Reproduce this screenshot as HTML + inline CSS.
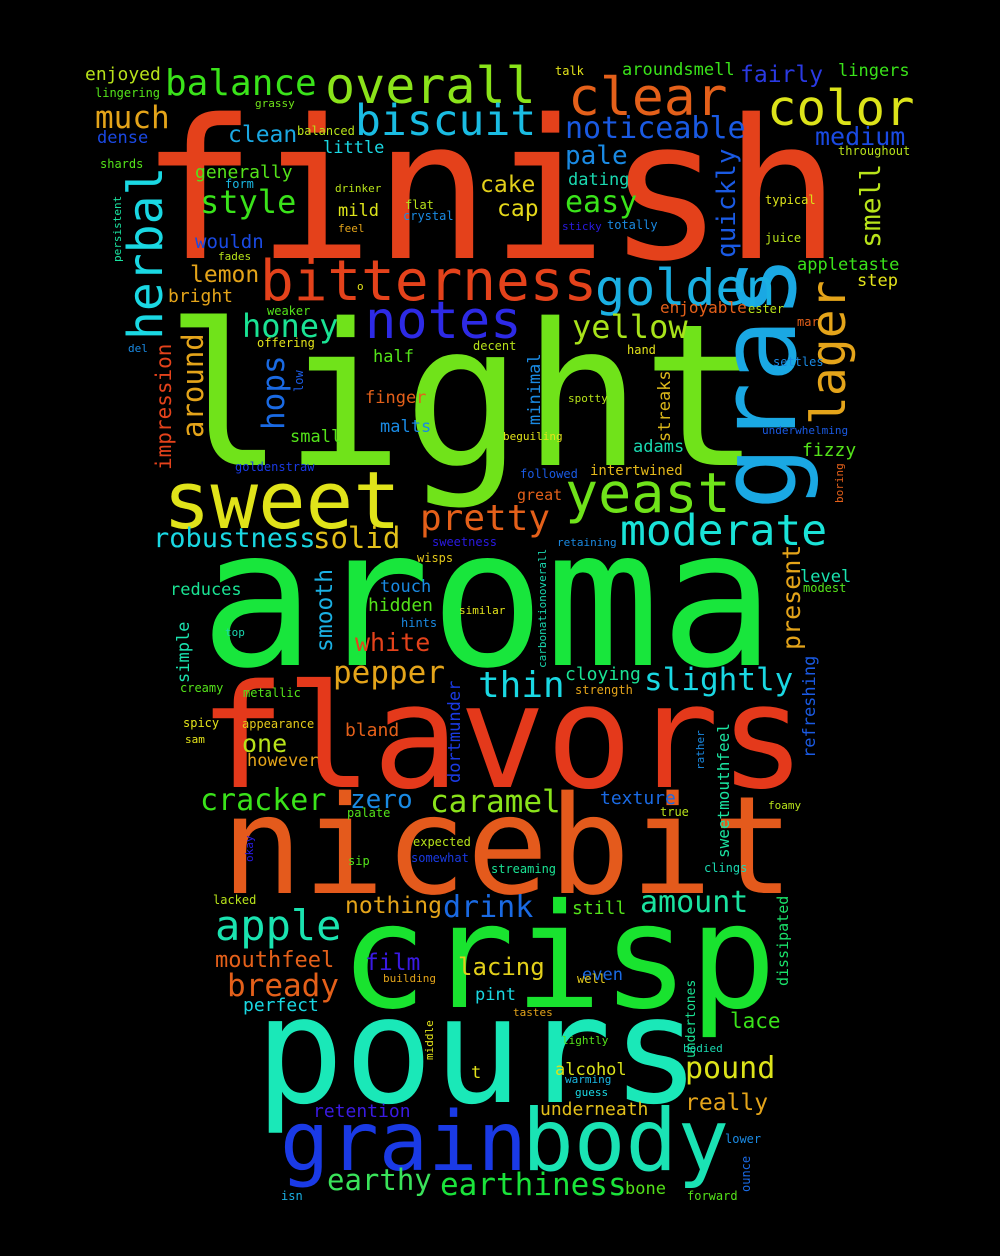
<!DOCTYPE html>
<html>
<head>
<meta charset="utf-8">
<style>
html,body{margin:0;padding:0;background:#000;}
svg{display:block;}
text{font-family:"DejaVu Sans Mono","Liberation Mono",monospace;}
</style>
</head>
<body>
<svg id="cloud" width="1000" height="1256" viewBox="0 0 1000 1256" xmlns="http://www.w3.org/2000/svg">
<rect width="1000" height="1256" fill="#000"/>
</svg>
<script>
// Word-cloud data, one small array per attribute (same order in every array).
const wordTexts = ["finish","light","aroma","flavors","nicebit","crisp","pours","grain","body","gras","sweet","yeast","bitterness","notes","golden","overall","clear","color","biscuit","balance","noticeable","herbal","lager","smell","quickly","much","dense","enjoyed","lingering","grassy","balanced","clean","little","pale","fairly","lingers","medium","throughout","talk","aroundsmell","shards","generally","style","form","persistent","drinker","mild","feel","flat","crystal","cake","cap","dating","easy","sticky","totally","typical","juice","wouldn","fades","lemon","o","bright","appletaste","step","enjoyable","weaker","offering","ester","mar","honey","yellow","del","hops","around","impression","half","decent","hand","settles","minimal","low","finger","spotty","streaks","malts","small","beguiling","underwhelming","adams","fizzy","goldenstraw","followed","intertwined","boring","great","robustness","solid","pretty","moderate","sweetness","retaining","wisps","carbonationoverall","present","level","modest","reduces","smooth","touch","hidden","similar","hints","simple","top","white","pepper","thin","cloying","slightly","creamy","metallic","strength","refreshing","dortmunder","spicy","appearance","bland","sweetmouthfeel","sam","one","however","rather","cracker","zero","caramel","texture","foamy","palate","true","expected","okay","sip","somewhat","streaming","clings","apple","nothing","drink","amount","still","lacked","dissipated","mouthfeel","film","lacing","even","bready","well","building","undertones","pint","perfect","tastes","lace","middle","lightly","bodied","pound","alcohol","t","warming","guess","really","retention","underneath","lower","ounce","earthy","earthiness","bone","forward","isn"];
const wordX = [140,165,200,199,221,340,255,280,522,795,163,565,260,365,595,325,568,767,355,165,565,162,845,880,735,95,97,85,95,255,297,228,323,565,740,838,815,838,555,622,100,195,200,225,121,335,338,338,405,403,480,497,568,565,562,607,765,765,195,218,190,357,168,797,857,660,267,257,748,797,242,572,128,284,203,171,373,473,627,773,540,303,365,568,670,380,290,503,762,633,802,235,520,590,843,517,153,313,420,620,432,557,417,546,800,800,803,170,332,380,368,459,401,189,225,355,333,478,565,644,180,243,575,815,460,183,242,345,729,185,242,247,704,200,350,430,600,768,347,660,413,253,348,411,491,704,215,345,443,640,572,213,788,215,365,458,582,227,577,383,695,475,243,513,730,433,562,683,685,555,471,565,575,685,313,540,725,750,327,440,625,687,281];
const wordY = [258,465,665,787,893,1007,1102,1170,1170,510,528,512,300,338,305,103,115,125,135,95,138,340,425,248,258,128,143,80,97,107,135,142,153,164,82,76,145,155,75,75,168,178,213,188,262,192,216,232,209,220,192,216,185,212,230,229,204,242,248,260,282,290,302,270,286,313,315,347,313,326,337,338,352,430,438,470,362,350,354,366,425,392,403,402,442,432,442,440,434,452,456,471,478,475,503,500,547,548,530,545,546,546,562,668,650,582,592,595,652,592,611,614,627,683,636,651,683,697,680,690,692,697,694,758,783,727,728,736,858,743,752,766,770,810,808,812,804,809,817,816,846,862,865,862,873,872,940,913,917,912,914,904,986,967,970,975,980,996,983,982,1058,1000,1011,1016,1028,1060,1044,1052,1078,1075,1078,1083,1096,1110,1117,1115,1143,1192,1190,1195,1194,1200,1200];
const wordSizes = [194,198,191,144,136,145,148,82,86,106,79,55,56,52,50,50,53,49,43,36,30,48,48,28,26,31,17,18,12,11,12,23,17,26,23,17,25,12,12,17,12,18,32,12,11,11,17,11,12,12,23,23,17,30,11,12,12,12,19,11,23,11,18,17,17,16,12,12,12,12,32,32,11,31,29,21,17,12,12,12,17,12,17,11,17,17,17,11,11,17,18,12,12,14,11,15,27,29,36,43,12,11,12,11,25,17,12,17,23,17,18,11,12,17,11,25,31,36,18,31,12,12,12,17,17,12,12,18,16,11,25,17,11,30,26,31,18,11,12,12,12,11,12,12,12,12,42,23,30,30,18,12,15,22,23,24,17,31,12,11,13,17,18,11,21,11,11,11,30,17,17,11,11,23,18,18,12,12,29,31,17,12,12];
const wordColors = ["#e4411b","#70e31a","#18e63c","#e4391b","#e45a1c","#19e32f","#1ae8b8","#1a3ae6","#1ae3b4","#1aa8e3","#e0e31a","#6fe31a","#e4421b","#2d2ae6","#1ab0e3","#8ae31a","#e4601a","#dce31a","#1abce3","#3ae31a","#1a5ae3","#1ad8e3","#e4a41a","#b8e31a","#1a5ae3","#e4a41a","#1a48e3","#b8e31a","#54e31a","#6fe31a","#b8e31a","#1aa8e3","#1ad8e3","#1a8ae3","#2a3ae3","#3ae31a","#1a4ae3","#b8e31a","#e3e31a","#3ae31a","#54e31a","#54e31a","#3ae31a","#1ab8e3","#1ae3a0","#b8e31a","#dce31a","#e4a41a","#b8e31a","#1a8ae3","#e3d01a","#e4d81a","#1ad8b0","#3ae31a","#2a1ae3","#1a8ae3","#dce31a","#b8e31a","#1a4ae3","#b8e31a","#e4a41a","#e3e31a","#e4a41a","#3ae31a","#e3e31a","#e4601a","#54e31a","#e3e31a","#b8e31a","#e4601a","#1ae394","#a8e31a","#1a8ae3","#1a6ae3","#e4a41a","#e4421b","#54e31a","#b8e31a","#e3e31a","#1a8ae3","#1a8ae3","#1a5ae3","#e4601a","#b8e31a","#dcb81a","#1a8ae3","#54e31a","#e3e31a","#1a5ae3","#1ad8b0","#54e31a","#1a3ae3","#1a5ae3","#e3b81a","#e4601a","#e4601a","#1ad8e3","#e3c01a","#e4601a","#1ae3d8","#2a1ae3","#1a8ae3","#e3c81a","#1ad8b0","#e4a41a","#1ae3b0","#54e31a","#1ae394","#1ab0e3","#1a8ae3","#54e31a","#e3e31a","#1a8ae3","#1ae3b0","#1ad8b0","#e4421b","#e4a41a","#1ad8e3","#1ae394","#1ad8e3","#54e31a","#54e31a","#e4a41a","#1a5ae3","#1a3ae3","#e3e31a","#e3c81a","#e4601a","#1ae3a0","#e3e31a","#b8e31a","#e4a41a","#1a8ae3","#3ae31a","#1a8ae3","#8ae31a","#1a6ae3","#b8e31a","#54e31a","#b8e31a","#b8e31a","#2a1ae3","#54e31a","#1a3ae3","#1ae394","#1ad8b0","#1ae3b0","#e4a41a","#1a6ae3","#1ae3a0","#54e31a","#b8e31a","#1ae36a","#e4601a","#3a1ae3","#e3d01a","#1a6ae3","#e4601a","#e3c81a","#e3a41a","#1ae394","#1ad8e3","#1ad8e3","#e3a41a","#3ae31a","#e3e31a","#54e31a","#1ad8b0","#dce31a","#dce31a","#e3e31a","#1ab8e3","#1ad8e3","#e4a41a","#3a1ae3","#e3c01a","#1a8ae3","#1a6ae3","#3ae35a","#1ae33a","#54e31a","#54e31a","#1ab0e3"];
const wordVertical = ["gras","herbal","lager","smell","quickly","persistent","hops","around","impression","minimal","low","streaks","boring","carbonationoverall","present","smooth","simple","refreshing","dortmunder","sweetmouthfeel","rather","okay","dissipated","undertones","middle","ounce"];

const svg = document.getElementById('cloud');
const NS = 'http://www.w3.org/2000/svg';
for (let i = 0; i < wordTexts.length; i++) {
  const t = document.createElementNS(NS, 'text');
  const x = wordX[i], y = wordY[i];
  t.setAttribute('x', x);
  t.setAttribute('y', y);
  t.setAttribute('font-size', wordSizes[i]);
  t.setAttribute('fill', wordColors[i]);
  if (wordVertical.indexOf(wordTexts[i]) >= 0) t.setAttribute('transform', 'rotate(-90 ' + x + ' ' + y + ')');
  t.textContent = wordTexts[i];
  
  
  svg.appendChild(t);
}
</script>
</body>
</html>
